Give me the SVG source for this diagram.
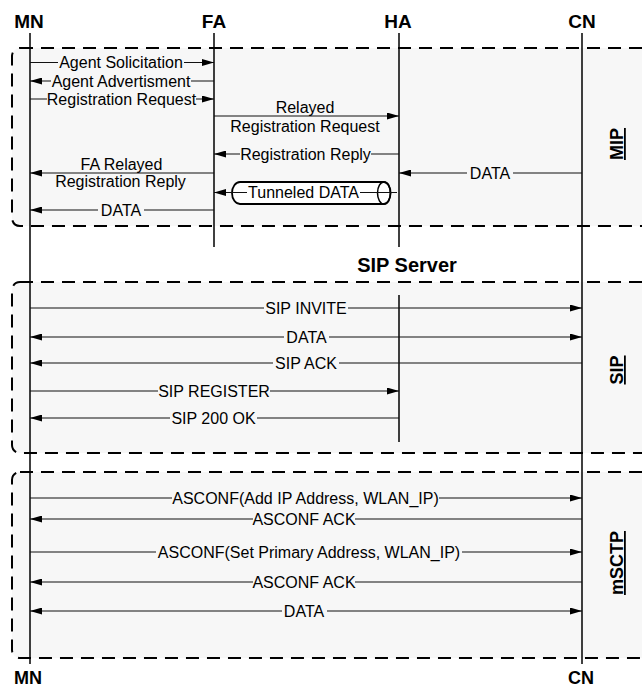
<svg xmlns="http://www.w3.org/2000/svg" width="642" height="689" viewBox="0 0 642 689">
<defs>
<style>
.hd{font-family:"Liberation Sans",Arial,sans-serif;font-size:19px;font-weight:bold;fill:#000;text-anchor:middle}
.sec{font-family:"Liberation Sans",Arial,sans-serif;font-size:18px;font-weight:bold;fill:#000;text-anchor:middle;text-decoration:underline}
.lbl{font-family:"Liberation Sans",Arial,sans-serif;font-size:16px;fill:#000;text-anchor:middle}
.bg{fill:#f7f7f7}
.bgw{fill:#fff}
.msg{stroke:#111;stroke-width:1.1;fill:none}
.to{marker-end:url(#ah)}
.both{marker-start:url(#ah);marker-end:url(#ah)}
.life{stroke:#000;stroke-width:1.5;fill:none}
.box{fill:#f7f7f7;stroke:#000;stroke-width:2;stroke-dasharray:13 8}
</style>
<marker id="ah" markerUnits="userSpaceOnUse" viewBox="0 0 12 7" markerWidth="12" markerHeight="7" refX="12" refY="3.5" orient="auto-start-reverse">
<path d="M0,0 L12,3.5 L0,7 Z" fill="#000"/>
</marker>
</defs>
<rect width="642" height="689" fill="#fff"/>

<g id="sections">
<g id="sec-mip">
<rect class="box" x="12" y="48" width="680" height="178" rx="8"/>
<text class="sec" transform="translate(623,144) rotate(-90)">MIP</text>
</g>
<g id="sec-sip">
<rect class="box" x="12" y="282" width="680" height="171" rx="8"/>
<text class="sec" transform="translate(623,370) rotate(-90)">SIP</text>
</g>
<g id="sec-msctp">
<rect class="box" x="12" y="472" width="680" height="186" rx="8"/>
<text class="sec" transform="translate(623,563) rotate(-90)">mSCTP</text>
</g>
</g>

<g id="MN">
<line class="life" x1="30" y1="33" x2="30" y2="664"/>
<text class="hd" x="29" y="28">MN</text>
<text class="hd" x="28" y="684" style="font-size:18px">MN</text>
</g>
<g id="FA">
<line class="life" x1="214" y1="33" x2="214" y2="247"/>
<text class="hd" x="214" y="28">FA</text>
</g>
<g id="HA">
<line class="life" x1="399" y1="33" x2="399" y2="247"/>
<text class="hd" x="398" y="28">HA</text>
</g>
<g id="CN">
<line class="life" x1="582" y1="33" x2="582" y2="664"/>
<text class="hd" x="582" y="28">CN</text>
<text class="hd" x="581" y="684" style="font-size:18px">CN</text>
</g>
<g id="SIPServer">
<line class="life" x1="399" y1="295" x2="399" y2="442"/>
<text class="hd" x="407" y="272" style="font-size:20px">SIP Server</text>
</g>
<g id="tunnel">
<path d="M240,182 L384,182 A6.5,11 0 0 1 384,204 L240,204 A8,11 0 0 1 240,182 Z" fill="#fff" stroke="#000" stroke-width="1.8"/>
<ellipse cx="384" cy="193" rx="6.5" ry="11" fill="none" stroke="#000" stroke-width="1.5"/>
</g>

<g id="connectors">
<line class="msg to" x1="30" y1="62.5" x2="214" y2="62.5"/>
<rect class="bg" x="58" y="55" width="126" height="15"/>
<text class="lbl" x="121" y="68">Agent Solicitation</text>
<line class="msg to" x1="214" y1="81" x2="30" y2="81"/>
<rect class="bg" x="51" y="74" width="140" height="15"/>
<text class="lbl" x="121" y="86.5">Agent Advertisment</text>
<line class="msg to" x1="30" y1="99" x2="214" y2="99"/>
<rect class="bg" x="47" y="92" width="149" height="15"/>
<text class="lbl" x="121.5" y="104.5">Registration Request</text>
<line class="msg to" x1="214" y1="116" x2="399" y2="116"/>
<text class="lbl" x="305" y="112.5">Relayed</text>
<text class="lbl" x="305" y="131.5">Registration Request</text>
<line class="msg to" x1="399" y1="154" x2="214" y2="154"/>
<rect class="bg" x="240" y="147" width="131" height="15"/>
<text class="lbl" x="305.5" y="159.5">Registration Reply</text>
<line class="msg to" x1="214" y1="173" x2="30" y2="173"/>
<text class="lbl" x="121.5" y="169.5">FA Relayed</text>
<text class="lbl" x="120.5" y="186.5">Registration Reply</text>
<line class="msg to" x1="582" y1="173" x2="399" y2="173"/>
<rect class="bg" x="467" y="166" width="46" height="15"/>
<text class="lbl" x="490" y="178.5">DATA</text>
<line class="msg to" x1="397" y1="192.5" x2="214" y2="192.5"/>
<rect class="bgw" x="247" y="185" width="113" height="15"/>
<text class="lbl" x="303.5" y="198">Tunneled DATA</text>
<line class="msg to" x1="214" y1="210" x2="30" y2="210"/>
<rect class="bg" x="98" y="203" width="46" height="15"/>
<text class="lbl" x="121" y="215.5">DATA</text>

<line class="msg to" x1="30" y1="308" x2="582" y2="308"/>
<rect class="bg" x="264" y="301" width="84" height="15"/>
<text class="lbl" x="306" y="313.5">SIP INVITE</text>
<line class="msg both" x1="30" y1="337" x2="582" y2="337"/>
<rect class="bg" x="284" y="330" width="45" height="15"/>
<text class="lbl" x="306.5" y="342.5">DATA</text>
<line class="msg to" x1="582" y1="363" x2="30" y2="363"/>
<rect class="bg" x="273" y="356" width="66" height="15"/>
<text class="lbl" x="306" y="368.5">SIP ACK</text>
<line class="msg to" x1="30" y1="391" x2="399" y2="391"/>
<rect class="bg" x="158" y="384" width="112" height="15"/>
<text class="lbl" x="214" y="396.5">SIP REGISTER</text>
<line class="msg to" x1="399" y1="418" x2="30" y2="418"/>
<rect class="bg" x="170" y="411" width="87" height="15"/>
<text class="lbl" x="213.5" y="423.5">SIP 200 OK</text>

<line class="msg to" x1="30" y1="498" x2="582" y2="498"/>
<rect class="bg" x="172" y="491" width="267" height="15"/>
<text class="lbl" x="305.5" y="503.5">ASCONF(Add IP Address, WLAN_IP)</text>
<line class="msg to" x1="582" y1="519" x2="30" y2="519"/>
<rect class="bg" x="253" y="512" width="102" height="15"/>
<text class="lbl" x="304" y="524.5">ASCONF ACK</text>
<line class="msg to" x1="30" y1="552" x2="582" y2="552"/>
<rect class="bg" x="156" y="545" width="306" height="15"/>
<text class="lbl" x="309" y="557.5">ASCONF(Set Primary Address, WLAN_IP)</text>
<line class="msg to" x1="582" y1="582" x2="30" y2="582"/>
<rect class="bg" x="253" y="575" width="102" height="15"/>
<text class="lbl" x="304" y="587.5">ASCONF ACK</text>
<line class="msg both" x1="30" y1="611" x2="582" y2="611"/>
<rect class="bg" x="282" y="604" width="45" height="15"/>
<text class="lbl" x="304" y="616.5">DATA</text>
</g>
</svg>
